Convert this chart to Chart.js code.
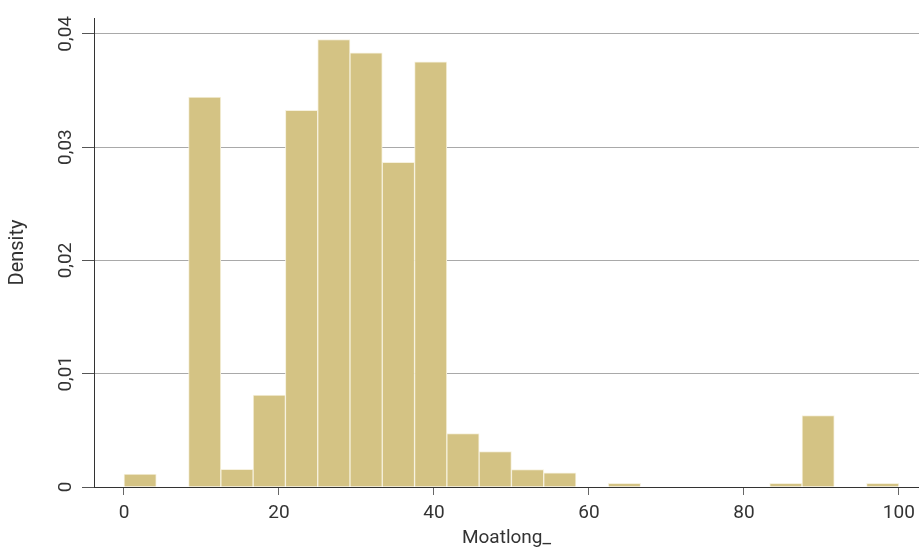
<!DOCTYPE html>
<html>
<head>
<meta charset="utf-8">
<script src="https://cdn.jsdelivr.net/npm/chart.js@4/dist/chart.umd.min.js"></script>
<style>
  html, body { margin: 0; padding: 0; background: #ffffff; }
  #wrap { width: 919px; height: 550px; }
</style>
</head>
<body>
<div id="wrap"><canvas id="hist" width="919" height="550"></canvas></div>
<script>
// Histogram of Moatlong_ : 24 equal bins over [0, 100]
const binStart = 0;
const binWidth = 100 / 24;
const density = [
  0.00115, 0, 0.03441, 0.00156, 0.00812, 0.03326, 0.03950, 0.03832,
  0.02867, 0.03753, 0.00471, 0.00313, 0.00153, 0.00124, 0, 0.00033,
  0, 0, 0, 0, 0.00033, 0.00630, 0, 0.00033
];
const xTickValues = [0, 20, 40, 60, 80, 100];
const yTickValues = [0, 0.01, 0.02, 0.03, 0.04];
const yTickLabels = ['0', '0,01', '0,02', '0,03', '0,04'];

const points = density.map((d, i) => ({ x: binStart + (i + 0.5) * binWidth, y: d }));

const textColor = '#333333';
const fontFamily = 'Roboto, "Liberation Sans", sans-serif';

new Chart(document.getElementById('hist'), {
  type: 'bar',
  data: {
    datasets: [{
      data: points,
      backgroundColor: '#d4c384',
      borderColor: '#f6f1de',
      borderWidth: 1,
      borderSkipped: 'start',
      barPercentage: 1,
      categoryPercentage: 1
    }]
  },
  options: {
    responsive: false,
    animation: false,
    devicePixelRatio: 1,
    layout: { padding: { top: 18, right: 0, left: 0, bottom: 0 } },
    plugins: { legend: { display: false }, tooltip: { enabled: false } },
    scales: {
      x: {
        type: 'linear',
        min: -3.87,
        max: 102.6,
        offset: false,
        afterBuildTicks: s => { s.ticks = xTickValues.map(v => ({ value: v })); },
        afterFit: s => { s.height = 63; s.paddingLeft = 0; s.paddingRight = 0; },
        grid: { display: true, offset: false, drawOnChartArea: false, drawTicks: true, tickLength: 8, tickColor: '#666666' },
        border: { display: true, color: '#333333', width: 1 },
        ticks: { color: textColor, padding: 7, font: { family: fontFamily, size: 19 }, maxRotation: 0, minRotation: 0 },
        title: { display: true, text: 'Moatlong_', color: textColor, font: { family: fontFamily, size: 19 }, padding: { top: 0, bottom: 0 } }
      },
      y: {
        type: 'linear',
        min: 0,
        max: 0.0414,
        afterBuildTicks: s => { s.ticks = yTickValues.map(v => ({ value: v })); },
        afterFit: s => { s.width = 94; s.paddingTop = 0; s.paddingBottom = 0; },
        grid: { display: true, drawOnChartArea: true, color: '#a9a9a9', lineWidth: 1, drawTicks: true, tickLength: 12, tickColor: '#555555' },
        border: { display: true, color: '#333333', width: 1 },
        ticks: {
          color: textColor,
          padding: -2,
          crossAlign: 'center',
          minRotation: 90,
          maxRotation: 90,
          font: { family: fontFamily, size: 19 },
          callback: (v) => {
            const i = yTickValues.findIndex(t => Math.abs(t - v) < 1e-9);
            return i >= 0 ? yTickLabels[i] : '';
          }
        },
        title: { display: true, text: 'Density', color: textColor, font: { family: fontFamily, size: 20 }, padding: { top: 6, bottom: 0 } }
      }
    }
  }
});
</script>
</body>
</html>
